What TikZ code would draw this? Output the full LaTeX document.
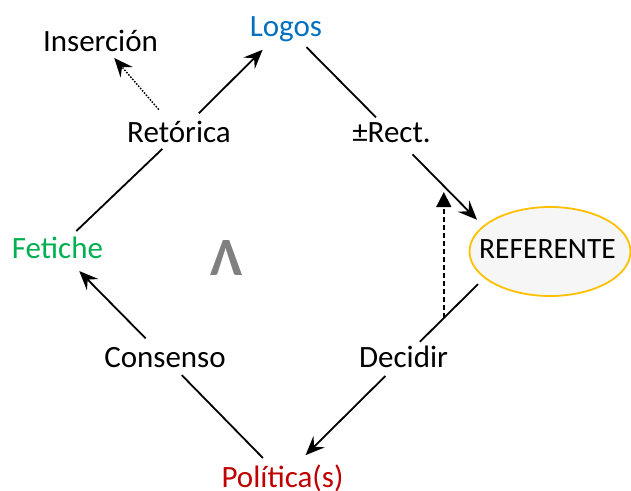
\documentclass[tikz,border=0pt]{standalone}
\usepackage{fontspec}
\setmainfont{Carlito}
\usetikzlibrary{arrows.meta,shapes.geometric}
\definecolor{logosblue}{HTML}{0070C0}
\definecolor{fetgreen}{HTML}{00B050}
\definecolor{polred}{HTML}{C00000}
\definecolor{refgold}{HTML}{FFC000}
\definecolor{reffill}{HTML}{F6F6F6}
\definecolor{wedgegray}{HTML}{808080}
\tikzset{
  lbl/.style={inner sep=0pt, anchor=center,
    font=\fontsize{31}{37}\selectfont, text height=19.6pt, text depth=0pt},
  conn/.style={line width=1.8pt, black},
  tip/.style={-{Stealth[length=19pt,width=16pt,inset=7pt]}},
  refshape/.style={ellipse, draw=refgold, line width=1.8pt, fill=reffill,
    minimum width=161pt, minimum height=89pt, inner sep=0pt},
  reftext/.style={inner sep=0pt, anchor=center,
    font=\fontsize{29.5}{35}\selectfont, text height=18.6pt, text depth=0pt}
}
\begin{document}
\begin{tikzpicture}[x=1pt,y=-1pt]
\useasboundingbox (0,0) rectangle (631,490);

% nodes
\node[lbl, text=logosblue] (logos) at (286,26.5) {Logos};
\node[lbl] (ins) at (100.5,42) {Inserción};
\node[lbl] (ret) at (179,133) {Retórica};
\node[lbl] (rect) at (391.5,133) {±Rect.};
\node[lbl, text=fetgreen] (fet) at (57.5,249) {Fetiche};
\node[refshape] (ref) at (550,251.5) {};
\node[reftext] (reflabel) at (547.5,249) {REFERENTE};
\node[lbl] (cons) at (165,358) {Consenso};
\node[lbl] (dec) at (403.5,358) {Decidir};
\node[lbl, text=polred] (pol) at (282.5,478) {Política(s)};
\node[inner sep=0pt, text=wedgegray, font=\fontsize{54}{60}\selectfont\bfseries] (wedge) at (227,257.5) {Λ};
\coordinate (dtip) at (444,192);

% connectors
\draw[conn, shorten <=26pt, shorten >=23pt] (fet.center) -- (ret.center);
\draw[conn, tip, shorten <=28pt, shorten >=33pt] (ret.center) -- (logos.center);
\draw[line width=1.5pt, dash pattern=on 1.5pt off 1.5pt, tip, shorten <=31pt, shorten >=21pt] (ret.center) -- (ins.center);
\draw[conn, shorten <=29pt, shorten >=22pt] (logos.center) -- (rect.center);
\draw[conn, tip, shorten <=30pt, shorten >=8.5pt] (rect.center) -- (ref.159);
\draw[conn, shorten <=8.5pt, shorten >=23pt] (ref.202) -- coordinate[pos=0.5] (dbase) (dec.center);
\draw[line width=1.5pt, dash pattern=on 5pt off 3pt, -{Triangle[length=15pt,width=15pt]}] (dbase) -- (dbase |- dtip);
\draw[conn, tip, shorten <=25.5pt, shorten >=32.5pt] (dec.center) -- (pol.center);
\draw[conn, shorten <=28pt, shorten >=24pt] (pol.center) -- (cons.center);
\draw[conn, tip, shorten <=27.5pt, shorten >=31pt] (cons.center) -- (fet.center);
\end{tikzpicture}
\end{document}
